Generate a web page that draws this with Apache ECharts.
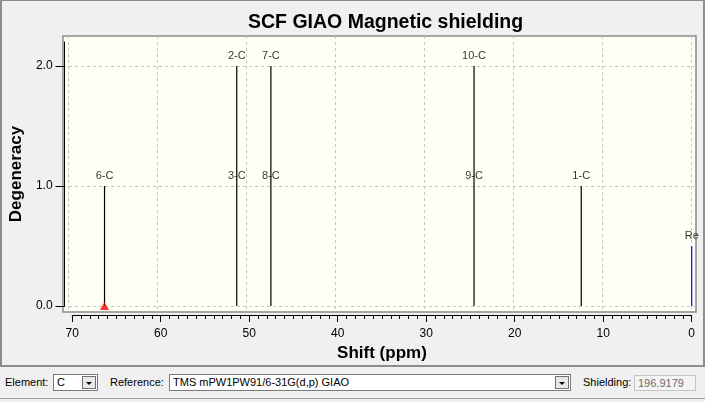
<!DOCTYPE html>
<html>
<head>
<meta charset="utf-8">
<script src="https://cdn.jsdelivr.net/npm/echarts@6/dist/echarts.min.js"></script>
<style>
  html, body { margin: 0; padding: 0; background: #f0f0f0; }
  body { width: 705px; height: 402px; position: relative; overflow: hidden;
         font-family: 'Liberation Sans', Arial, sans-serif; font-size: 11px; color: #000; }
  #chart { position: absolute; left: 0; top: 0; width: 705px; height: 367px; }
  #frame { position: absolute; left: 0; top: 0; width: 705px; height: 367px; box-sizing: border-box;
           border: 2px solid #8d8d8d; border-top-width: 1px; pointer-events: none; }
  #bottomLine { position: absolute; left: 0; top: 398px; width: 705px; height: 1px; background: #a0a0a0; }
  .lbl { position: absolute; top: 376px; line-height: 13px; white-space: nowrap; }
  .combo { position: absolute; top: 374px; height: 17px; box-sizing: border-box; background: #fff;
           border: 1px solid #7a7a7a; line-height: 15px; padding-left: 3px; white-space: nowrap; }
  .arrow { position: absolute; right: 1px; top: 1px; width: 14px; height: 13px; box-sizing: border-box;
           background: #e8e8e8; border: 1px solid #707070; }
  .arrow:after { content: ''; position: absolute; left: 3px; top: 5px; border-left: 3px solid transparent;
           border-right: 3px solid transparent; border-top: 3px solid #000; }
  .box { position: absolute; left: 634px; top: 375px; width: 62px; height: 16px; box-sizing: border-box;
         background: #f4f4f4; border: 1px solid #c4c4c4; color: #6d6d6d; line-height: 14px; padding-left: 3px; }
</style>
</head>
<body>
<div id="chart"></div>
<div id="frame"></div>
<div id="bottomLine"></div>
<div class="lbl" style="left:5px">Element:</div>
<div class="combo" style="left:53px;width:45px">C<div class="arrow"></div></div>
<div class="lbl" style="left:110px">Reference:</div>
<div class="combo" style="left:169px;width:402px">TMS mPW1PW91/6-31G(d,p) GIAO<div class="arrow"></div></div>
<div class="lbl" style="left:583px">Shielding:</div>
<div class="box">196.9179</div>
<script>
// peaks (shift in ppm, degeneracy)
const peakShifts = [65.9, 51.06, 47.23, 24.43, 12.4];
const peakDegeneracy = [1, 2, 2, 2, 1];

// atom labels sit at the level they stack up to on their peak
const atomLabels = ['6-C', '2-C', '3-C', '7-C', '8-C', '10-C', '9-C', '1-C'];
const atomShifts = [65.9, 51.06, 51.06, 47.23, 47.23, 24.43, 24.43, 12.4];
const atomLevels = [1, 2, 1, 2, 1, 2, 1, 1];

// reference line
const refShift = 0;
const refHeight = 0.5;
const refLabel = 'Re';

// selected peak marker
const markerShift = 65.9;

const xTicks = [0, 10, 20, 30, 40, 50, 60, 70];
const yTicks = [0, 1, 2];

const chart = echarts.init(document.getElementById('chart'));
const font = "'Liberation Sans', Arial, sans-serif";

chart.setOption({
  animation: false,
  title: {
    text: 'SCF GIAO Magnetic shielding',
    left: 243, top: 8,
    textStyle: { fontFamily: font, fontSize: 19.5, fontWeight: 'bold', color: '#000' }
  },
  grid: [
    { left: 63, right: 9, top: 36, bottom: 55, show: true,
      backgroundColor: '#fffff5', borderColor: '#8a8a8a', borderWidth: 1.5 },
    { left: 68.3, right: 13.3, top: 42, bottom: 61 }
  ],
  xAxis: [
    { gridIndex: 0, type: 'value', inverse: true, min: -0.48, max: 70.56,
      axisLine: { show: false }, axisLabel: { show: false },
      axisTick: { show: false, customValues: xTicks },
      splitLine: { show: true, lineStyle: { color: '#c4c4c4', type: [3, 3], width: 1 } } },
    { gridIndex: 1, type: 'value', inverse: true, min: 0, max: 70, interval: 10,
      position: 'bottom', offset: 9,
      name: 'Shift (ppm)', nameLocation: 'middle', nameGap: 30,
      nameTextStyle: { fontFamily: font, fontSize: 17, fontWeight: 'bold', color: '#000' },
      axisLine: { show: true, onZero: false, lineStyle: { color: '#000', width: 1 } },
      axisTick: { show: true, length: 7, lineStyle: { color: '#000' } },
      minorTick: { show: true, splitNumber: 10, length: 4, lineStyle: { color: '#000' } },
      axisLabel: { margin: 13, fontFamily: font, fontSize: 12, color: '#000' },
      splitLine: { show: false } }
  ],
  yAxis: [
    { gridIndex: 0, type: 'value', min: -0.05, max: 2.25,
      axisLine: { show: false }, axisLabel: { show: false },
      axisTick: { show: false, customValues: yTicks },
      splitLine: { show: true, lineStyle: { color: '#c4c4c4', type: [3, 3], width: 1 } } },
    { gridIndex: 1, type: 'value', min: 0, max: 2.2, interval: 1,
      position: 'left', offset: 7.6,
      name: 'Degeneracy', nameLocation: 'middle', nameGap: 33, nameRotate: 90,
      nameTextStyle: { fontFamily: font, fontSize: 17, fontWeight: 'bold', color: '#000' },
      axisLine: { show: true, onZero: false, lineStyle: { color: '#000', width: 1 } },
      axisTick: { show: true, length: 9, lineStyle: { color: '#000' } },
      axisLabel: { margin: 12, fontFamily: font, fontSize: 12, color: '#000',
                   showMaxLabel: false, formatter: v => v.toFixed(1) },
      splitLine: { show: false } }
  ],
  series: [
    { type: 'bar', xAxisIndex: 0, yAxisIndex: 0, barWidth: 1.2,
      itemStyle: { color: '#000' },
      data: peakShifts.map((s, i) => [s, peakDegeneracy[i]]) },
    { type: 'bar', xAxisIndex: 0, yAxisIndex: 0, barWidth: 1.2, barGap: '-100%',
      itemStyle: { color: '#0000ff' },
      data: [[refShift, refHeight]] },
    { type: 'scatter', xAxisIndex: 0, yAxisIndex: 0, symbolSize: 0,
      label: { show: true, position: 'top', distance: 5, formatter: '{b}',
               fontFamily: font, fontSize: 11, color: '#000' },
      data: atomShifts.map((s, i) => ({ name: atomLabels[i], value: [s, atomLevels[i]] }))
        .concat([{ name: refLabel, value: [refShift, refHeight] }]) },
    { type: 'scatter', xAxisIndex: 0, yAxisIndex: 0, symbol: 'triangle', symbolSize: [9, 8],
      itemStyle: { color: '#ff0000' }, z: 5,
      data: [[markerShift, 0]] }
  ]
});
</script>
</body>
</html>
